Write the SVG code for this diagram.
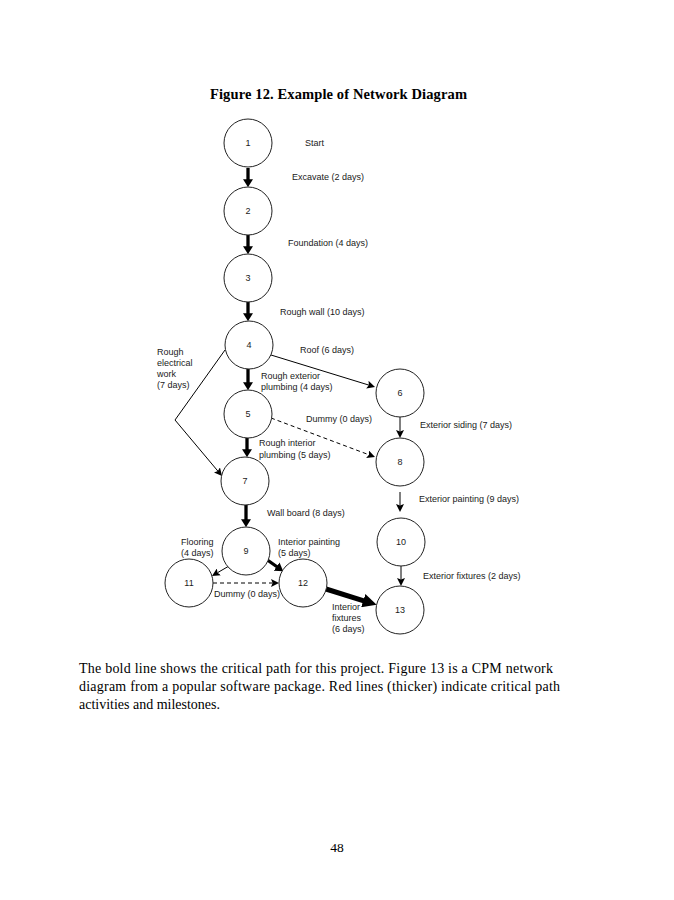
<svg xmlns="http://www.w3.org/2000/svg" width="674" height="900" viewBox="0 0 674 900">
<style>
.bg{fill:#ffffff}
.node circle{fill:#ffffff;stroke:#222;stroke-width:1}
.node text,.lbl{font-family:"Liberation Sans",Arial,sans-serif;font-size:9px;fill:#1a1a1a}
.node text{text-anchor:middle}
.thick{stroke:#000;stroke-width:3.3;fill:none}
.thin{stroke:#000;stroke-width:1;fill:none}
.dash{stroke:#000;stroke-width:1;fill:none;stroke-dasharray:4 3}
.title{font-family:"Palatino Linotype","Book Antiqua",Palatino,"Liberation Serif",serif;font-weight:bold;font-size:14.5px;fill:#000}
.para{font-family:"Palatino Linotype","Book Antiqua",Palatino,"Liberation Serif",serif;font-size:14px;fill:#000}
</style>
<defs>
<marker id="ahT" viewBox="0 0 10 10" refX="1" refY="5" markerWidth="8" markerHeight="10" markerUnits="userSpaceOnUse" orient="auto" preserveAspectRatio="none"><path d="M0,0 L10,5 L0,10 z" fill="#000"/></marker>
<marker id="ahN" viewBox="0 0 10 10" refX="2" refY="5" markerWidth="8" markerHeight="8" markerUnits="userSpaceOnUse" orient="auto" preserveAspectRatio="none"><path d="M0,0 L10,5 L0,10 L2,5 z" fill="#000"/></marker>
<marker id="ahB" viewBox="0 0 10 10" refX="1" refY="5" markerWidth="14" markerHeight="14" markerUnits="userSpaceOnUse" orient="auto" preserveAspectRatio="none"><path d="M0,0 L10,5 L0,10 z" fill="#000"/></marker>
</defs>
<rect class="bg" x="0" y="0" width="674" height="900"/>

<text class="title" x="210" y="99" textLength="257">Figure 12. Example of Network Diagram</text>

<g id="connectors">
<line class="thick" x1="248" y1="168" x2="248" y2="180" marker-end="url(#ahT)"/>
<line class="thick" x1="248" y1="235" x2="248" y2="247" marker-end="url(#ahT)"/>
<line class="thick" x1="248" y1="302" x2="248" y2="314" marker-end="url(#ahT)"/>
<line class="thick" x1="248" y1="369" x2="248" y2="383" marker-end="url(#ahT)"/>
<line class="thick" x1="247" y1="438" x2="247" y2="450" marker-end="url(#ahT)"/>
<line class="thick" x1="246" y1="505" x2="246" y2="520" marker-end="url(#ahT)"/>
<line class="thin" x1="271" y1="355" x2="368.9" y2="385.1" marker-end="url(#ahN)"/>
<polyline class="thin" points="225,350 175,420 217.9,471.1" marker-end="url(#ahN)"/>
<line class="dash" x1="271" y1="418" x2="369" y2="454.8" marker-end="url(#ahN)"/>
<line class="thin" x1="400" y1="417" x2="400" y2="431.6" marker-end="url(#ahN)"/>
<line class="thin" x1="400" y1="492" x2="400" y2="505.6" marker-end="url(#ahN)"/>
<line class="thin" x1="401" y1="566" x2="401" y2="579.6" stroke="#444" marker-end="url(#ahN)"/>
<line class="thin" x1="229" y1="566" x2="217.5" y2="572.7" marker-end="url(#ahN)"/>
<line class="thick" x1="266" y1="559" x2="277.3" y2="567" marker-end="url(#ahT)"/>
<line class="dash" x1="213" y1="583" x2="272.6" y2="583" marker-end="url(#ahN)"/>
<line class="thick" style="stroke-width:5" x1="326" y1="589" x2="364.6" y2="601.1" marker-end="url(#ahB)"/>
</g>

<g id="n1" class="node"><circle cx="248" cy="143" r="24"/><text x="248" y="146">1</text></g>
<g id="n2" class="node"><circle cx="248" cy="211" r="24"/><text x="248" y="214">2</text></g>
<g id="n3" class="node"><circle cx="248" cy="278" r="24"/><text x="248" y="281">3</text></g>
<g id="n4" class="node"><circle cx="249" cy="345" r="24"/><text x="249" y="348">4</text></g>
<g id="n5" class="node"><circle cx="248" cy="414" r="24"/><text x="248" y="417">5</text></g>
<g id="n6" class="node"><circle cx="400" cy="393" r="24"/><text x="400" y="396">6</text></g>
<g id="n7" class="node"><circle cx="245" cy="481" r="24"/><text x="245" y="484">7</text></g>
<g id="n8" class="node"><circle cx="400" cy="462" r="24"/><text x="400" y="465">8</text></g>
<g id="n9" class="node"><circle cx="246" cy="551" r="24"/><text x="246" y="554">9</text></g>
<g id="n10" class="node"><circle cx="401" cy="542" r="24"/><text x="401" y="545">10</text></g>
<g id="n11" class="node"><circle cx="189" cy="583" r="24"/><text x="189" y="586">11</text></g>
<g id="n12" class="node"><circle cx="303" cy="583" r="24"/><text x="303" y="586">12</text></g>
<g id="n13" class="node"><circle cx="400" cy="610" r="24"/><text x="400" y="613">13</text></g>

<g id="labels">
<text class="lbl" x="305" y="146">Start</text>
<text class="lbl" x="292" y="180">Excavate (2 days)</text>
<text class="lbl" x="288" y="246">Foundation (4 days)</text>
<text class="lbl" x="280" y="315">Rough wall (10 days)</text>
<text class="lbl" x="300" y="353">Roof (6 days)</text>
<text class="lbl" x="261" y="379">Rough exterior</text>
<text class="lbl" x="261" y="390">plumbing (4 days)</text>
<text class="lbl" x="306" y="422">Dummy (0 days)</text>
<text class="lbl" x="259" y="446">Rough interior</text>
<text class="lbl" x="259" y="458">plumbing (5 days)</text>
<text class="lbl" x="157" y="355">Rough</text>
<text class="lbl" x="157" y="366">electrical</text>
<text class="lbl" x="157" y="377">work</text>
<text class="lbl" x="157" y="388">(7 days)</text>
<text class="lbl" x="420" y="428">Exterior siding (7 days)</text>
<text class="lbl" x="419" y="502">Exterior painting (9 days)</text>
<text class="lbl" x="267" y="516">Wall board (8 days)</text>
<text class="lbl" x="181" y="545">Flooring</text>
<text class="lbl" x="181" y="556">(4 days)</text>
<text class="lbl" x="278" y="545">Interior painting</text>
<text class="lbl" x="278" y="556">(5 days)</text>
<text class="lbl" x="423" y="579">Exterior fixtures (2 days)</text>
<text class="lbl" x="214" y="597">Dummy (0 days)</text>
<text class="lbl" x="332" y="610">Interior</text>
<text class="lbl" x="332" y="621">fixtures</text>
<text class="lbl" x="332" y="632">(6 days)</text>
</g>

<text class="para" x="79" y="673" textLength="474">The bold line shows the critical path for this project. Figure 13 is a CPM network</text>
<text class="para" x="79" y="691" textLength="481">diagram from a popular software package. Red lines (thicker) indicate critical path</text>
<text class="para" x="79" y="709" textLength="141">activities and milestones.</text>
<text class="para" x="337" y="852" text-anchor="middle" style="font-size:13.5px">48</text>
</svg>
